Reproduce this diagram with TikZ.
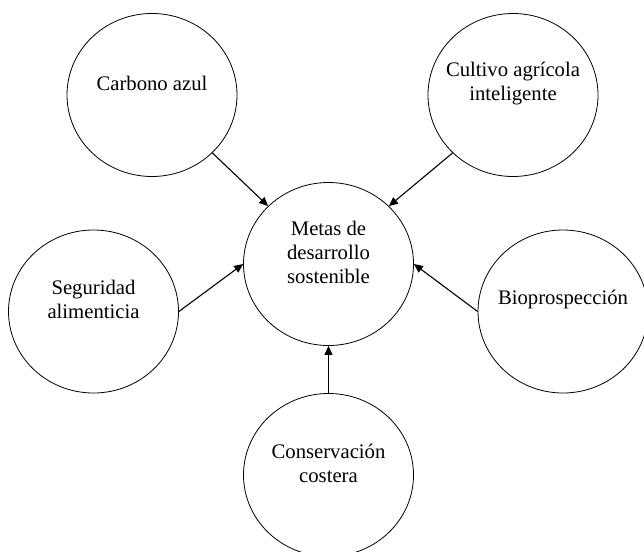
\documentclass[tikz,border=0pt]{standalone}
\usepackage{fontspec}
\setmainfont{Liberation Serif}
\usetikzlibrary{arrows.meta,shapes.geometric}
\begin{document}
\begin{tikzpicture}[x=1pt,y=-1pt,
  bubble/.style={draw=black,line width=0.8pt,ellipse,minimum width=170pt,minimum height=163pt,inner sep=0pt},
  txt/.style={align=center,inner sep=0pt,font=\fontsize{20.7}{24}\selectfont},
  conn/.style={line width=1.1pt,-{Triangle[length=9pt,width=8pt]}}]
\useasboundingbox (0,0) rectangle (644,551);
\node[bubble] (car) at (152,95) {};
\node[bubble] (cul) at (513,95) {};
\node[bubble] (met) at (328.5,264) {};
\node[bubble] (seg) at (93.5,311.5) {};
\node[bubble] (bio) at (563,311.5) {};
\node[bubble] (con) at (328.5,475) {};
\node[txt] (cart) at ([yshift=11.5pt]car.center) {Carbono azul};
\node[txt] (cult) at ([yshift=11.5pt]cul.center) {Cultivo agrícola\\inteligente};
\node[txt] (mett) at ([yshift=12pt]met.center) {Metas de\\desarrollo\\sostenible};
\node[txt] (segt) at ([yshift=12pt]seg.center) {Seguridad\\alimenticia};
\node[txt] (biot) at ([yshift=11.5pt]bio.center) {Bioprospección};
\node[txt] (cont) at ([yshift=11.5pt]con.center) {Conservación\\costera};
\draw[conn] (car.south east) -- (met.north west);
\draw[conn] (cul.south west) -- (met.north east);
\draw[conn] (seg.east) -- (met.west);
\draw[conn] (bio.west) -- (met.east);
\draw[conn] (con.north) -- (met.south);
\end{tikzpicture}
\end{document}
